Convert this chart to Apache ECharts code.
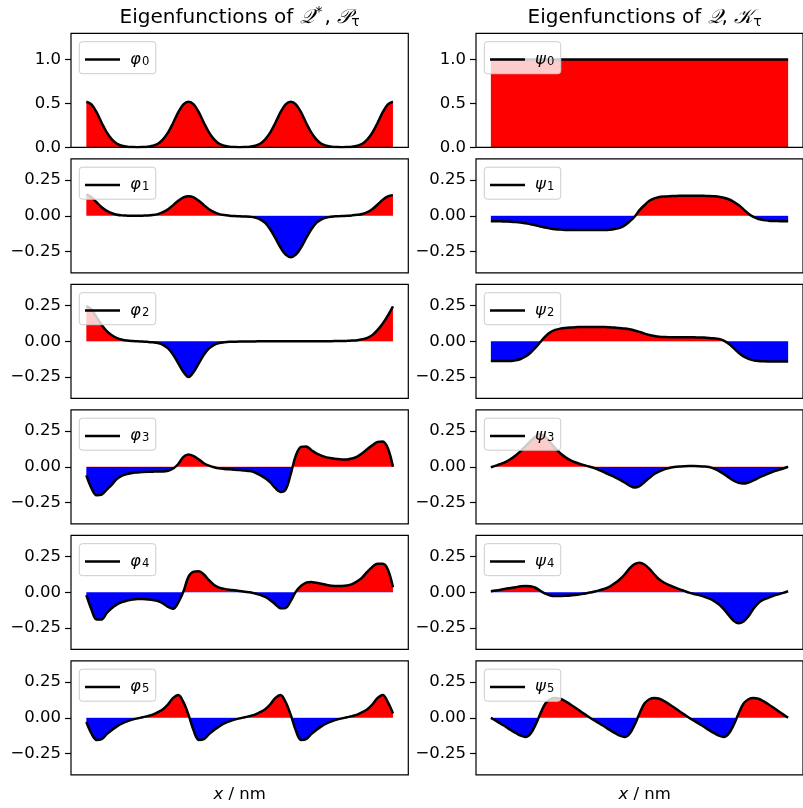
<!DOCTYPE html>
<html><head><meta charset="utf-8">
<script src="https://cdn.jsdelivr.net/npm/echarts@6/dist/echarts.min.js"></script>
<style>html,body{margin:0;padding:0;background:#fff;}#c{width:803px;height:808px;}</style>
</head><body><div id="c"></div>
<script>
// ---- data (61 samples across x) ----
const phi0 = [0.52,0.49,0.40,0.28,0.17,0.09,0.04,0.018,0.007,0.003,0.001,
0.003,0.007,0.018,0.04,0.09,0.17,0.28,0.40,0.49,0.52,
0.49,0.40,0.28,0.17,0.09,0.04,0.018,0.007,0.003,0.001,
0.003,0.007,0.018,0.04,0.09,0.17,0.28,0.40,0.49,0.52,
0.49,0.40,0.28,0.17,0.09,0.04,0.018,0.007,0.003,0.001,
0.003,0.007,0.018,0.04,0.09,0.17,0.28,0.40,0.49,0.52];
const phi1 = [0.15,0.13,0.095,0.06,0.035,0.018,0.008,0.003,0.001,0.0,0.0,
0.001,0.002,0.005,0.012,0.025,0.046,0.075,0.106,0.13,
0.138,
0.13,0.106,0.075,0.046,0.025,0.012,0.005,0.001,-0.002,-0.004,-0.005,
-0.007,-0.012,-0.025,-0.05,-0.096,-0.157,-0.223,-0.273,
-0.29,
-0.273,-0.223,-0.157,-0.096,-0.05,-0.025,-0.012,-0.006,
-0.003,-0.001,0.0,0.003,0.007,0.013,0.026,0.048,0.079,0.112,0.136,0.145];
const phi2 = [0.249,0.225,0.17,0.115,0.072,0.042,0.022,0.011,0.005,0.002,0.0,
-0.002,-0.004,-0.007,-0.012,-0.025,-0.05,-0.095,-0.155,-0.215,
-0.251,
-0.215,-0.155,-0.095,-0.05,-0.025,-0.012,-0.007,-0.004,-0.003,
-0.002,-0.002,-0.001,-0.001,0,0,0,0,0,0,0,0,0,0,0,0,0.001,0.001,0.001,0.002,0.002,
0.003,0.005,0.008,0.014,0.024,0.045,0.08,0.125,0.18,0.245];
const phi3 = [-0.06,-0.15,-0.20,-0.195,-0.16,-0.125,-0.085,-0.062,-0.05,-0.043,
-0.04,-0.037,-0.035,-0.034,-0.033,-0.033,-0.028,-0.012,0.02,0.07,
0.086,0.075,0.052,0.025,0.008,-0.003,-0.011,-0.015,-0.018,-0.02,
-0.023,-0.026,-0.03,-0.04,-0.058,-0.08,-0.11,-0.15,-0.176,-0.16,
-0.05,0.08,0.14,0.143,0.118,0.094,0.078,0.066,0.06,0.055,
0.052,0.052,0.058,0.072,0.095,0.125,0.152,0.175,0.178,0.13,0.0];
const phi4 = [-0.02,-0.12,-0.19,-0.19,-0.145,-0.11,-0.085,-0.068,-0.058,-0.051,
-0.047,-0.047,-0.05,-0.054,-0.062,-0.078,-0.103,-0.115,-0.07,0.005,
0.11,0.145,0.148,0.125,0.085,0.052,0.033,0.024,0.018,0.014,
0.009,0.004,0.0,-0.008,-0.018,-0.032,-0.055,-0.085,-0.112,-0.11,
-0.06,0.005,0.045,0.068,0.073,0.067,0.06,0.052,0.046,0.044,
0.044,0.047,0.057,0.077,0.105,0.145,0.18,0.2,0.2,0.16,0.035];
const phi5 = [-0.03,-0.11,-0.155,-0.15,-0.115,-0.085,-0.06,-0.04,-0.025,-0.013,
-0.004,0.004,0.012,0.022,0.04,0.06,0.095,0.14,0.16,0.11,
0.02,-0.09,-0.155,-0.15,-0.115,-0.085,-0.06,-0.04,-0.025,-0.013,
-0.004,0.004,0.012,0.022,0.04,0.06,0.095,0.14,0.16,0.11,
0.02,-0.09,-0.155,-0.15,-0.115,-0.085,-0.06,-0.04,-0.025,-0.013,
-0.004,0.004,0.012,0.022,0.04,0.06,0.095,0.14,0.16,0.11,0.03];
const psi0 = [1,1,1,1,1,1,1,1,1,1,1,1,1,1,1,1,1,1,1,1,1,1,1,1,1,1,1,1,1,1,
1,1,1,1,1,1,1,1,1,1,1,1,1,1,1,1,1,1,1,1,1,1,1,1,1,1,1,1,1,1,1];
const psi1 = [-0.038,-0.038,-0.039,-0.04,-0.041,-0.043,-0.047,-0.053,-0.059,-0.066,
-0.075,-0.082,-0.089,-0.094,-0.097,-0.099,-0.1,-0.1,-0.1,-0.1,
-0.1,-0.1,-0.1,-0.1,-0.098,-0.093,-0.085,-0.068,-0.04,-0.007,
0.04,0.075,0.105,0.122,0.132,0.136,0.138,0.139,0.14,0.141,
0.141,0.141,0.141,0.14,0.139,0.137,0.134,0.127,0.116,0.098,
0.075,0.045,0.015,-0.008,-0.022,-0.03,-0.034,-0.036,-0.037,-0.038,-0.038];
const psi2 = [-0.139,-0.139,-0.139,-0.139,-0.138,-0.133,-0.124,-0.107,-0.08,-0.045,
-0.005,0.035,0.064,0.08,0.089,0.094,0.097,0.099,0.1,0.101,
0.101,0.101,0.101,0.1,0.098,0.096,0.093,0.09,0.084,0.076,
0.066,0.054,0.044,0.037,0.032,0.03,0.029,0.029,0.028,0.028,
0.028,0.028,0.027,0.026,0.024,0.021,0.017,0.005,-0.018,-0.048,
-0.08,-0.106,-0.123,-0.133,-0.138,-0.14,-0.141,-0.141,-0.141,-0.141,-0.141];
const psi3 = [-0.003,0.008,0.02,0.035,0.055,0.08,0.11,0.145,0.18,0.212,
0.228,0.21,0.17,0.13,0.095,0.068,0.047,0.032,0.02,0.01,
0.0,-0.01,-0.025,-0.04,-0.056,-0.072,-0.09,-0.11,-0.132,-0.146,
-0.135,-0.108,-0.078,-0.05,-0.032,-0.018,-0.008,-0.002,0.002,0.004,
0.005,0.005,0.004,0.002,-0.002,-0.012,-0.028,-0.05,-0.075,-0.098,
-0.113,-0.118,-0.11,-0.096,-0.078,-0.062,-0.047,-0.034,-0.023,-0.012,0.0];
const psi4 = [0.007,0.012,0.018,0.025,0.03,0.036,0.042,0.045,0.042,0.032,
0.01,-0.01,-0.022,-0.026,-0.026,-0.025,-0.023,-0.019,-0.014,-0.008,
-0.002,0.006,0.015,0.025,0.04,0.063,0.09,0.125,0.168,0.198,
0.208,0.195,0.165,0.125,0.09,0.067,0.05,0.036,0.022,0.01,
-0.002,-0.012,-0.02,-0.03,-0.043,-0.06,-0.085,-0.118,-0.16,-0.2,
-0.218,-0.205,-0.168,-0.115,-0.075,-0.052,-0.038,-0.025,-0.014,-0.004,0.007];
const psi5 = [0.0,-0.02,-0.042,-0.063,-0.085,-0.106,-0.125,-0.135,-0.112,-0.05,
0.03,0.1,0.13,0.139,0.134,0.117,0.095,0.072,0.048,0.024,
0.0,-0.02,-0.042,-0.063,-0.085,-0.106,-0.125,-0.135,-0.112,-0.05,
0.03,0.1,0.13,0.139,0.134,0.117,0.095,0.072,0.048,0.024,
0.0,-0.02,-0.042,-0.063,-0.085,-0.106,-0.125,-0.135,-0.112,-0.05,
0.03,0.1,0.13,0.139,0.134,0.117,0.095,0.072,0.048,0.024,0.0];

const leftNames = ['φ0','φ1','φ2','φ3','φ4','φ5'];
const rightNames = ['ψ0','ψ1','ψ2','ψ3','ψ4','ψ5'];
// tick grids (axis steps) and the labelled ticks
const yStepsTop = ['0.0','0.1','0.2','0.3','0.4','0.5','0.6','0.7','0.8','0.9','1.0','1.1','1.2','1.3'];
const yTickLabelsTop = ['0.0', '0.5', '1.0'];
const ySteps = ['-0.40','-0.35','-0.30','-0.25','-0.20','-0.15','-0.10','-0.05','0.00',
                '0.05','0.10','0.15','0.20','0.25','0.30','0.35','0.40'];
const yTickLabels = ['-0.25', '0.00', '0.25'];
const leftTitle = 'Eigenfunctions of {q|𝒬}{sup|*}{t|, }{q|𝒫}{sub|τ}';
const rightTitle = 'Eigenfunctions of {q|𝒬}{t|, }{q|𝒦}{sub|τ}';
const xLabel = '{i|x}{t| / nm}';

// ---- layout ----
const FONT = 'DejaVu Sans';
const FS = 16.5;
const colLeft = [71, 476];
const gridW = 337.3, gridH = 114, top0 = 33.3, rowStep = 125.5;
const leftData = [phi0, phi1, phi2, phi3, phi4, phi5];
const rightData = [psi0, psi1, psi2, psi3, psi4, psi5];

const grids = [], xAxes = [], yAxes = [], series = [], legends = [], areaIdx = [];
for (let col = 0; col < 2; col++) {
  for (let row = 0; row < 6; row++) {
    const k = grids.length;
    const top = top0 + row * rowStep;
    const left = colLeft[col];
    const steps = row === 0 ? yStepsTop : ySteps;
    const shown = row === 0 ? yTickLabelsTop : yTickLabels;
    const isShown = function (idx, val) { return shown.indexOf(steps[idx]) >= 0; };
    grids.push({left: left, top: top, width: gridW, height: gridH, show: true,
      borderColor: '#000', borderWidth: 1.2, backgroundColor: 'transparent', z: 10});
    xAxes.push({type: 'value', gridIndex: k, min: -0.05, max: 1.05, show: false,
      axisLine: {show: false}, axisTick: {show: false}, axisLabel: {show: false}, splitLine: {show: false}});
    // value axis for the data (hidden)
    yAxes.push({type: 'value', gridIndex: k, show: false, min: row === 0 ? 0 : -0.4, max: row === 0 ? 1.3 : 0.4,
      splitLine: {show: false}});
    // category axis carrying ticks and labels at the same positions
    yAxes.push({type: 'category', gridIndex: k, position: 'left', data: steps, boundaryGap: false,
      axisLine: {show: false}, splitLine: {show: false},
      axisTick: {show: true, length: 6, interval: isShown, lineStyle: {color: '#000', width: 1.2}},
      axisLabel: {show: true, interval: isShown, margin: 10, color: '#000', fontFamily: FONT, fontSize: FS,
        formatter: function (v) { return String(v).replace('-', '\u2212'); }}});
    const vals = col === 0 ? leftData[row] : rightData[row];
    const name = col === 0 ? leftNames[row] : rightNames[row];
    const pts = vals.map((v, i) => [i / (vals.length - 1), v]);
    areaIdx.push(series.length);
    series.push({type: 'line', name: 'fill_' + name, xAxisIndex: k, yAxisIndex: 2 * k, data: pts,
      symbol: 'none', smooth: 0.35, silent: true, lineStyle: {width: 0},
      areaStyle: {opacity: 1, origin: 0}, z: 2, animation: false});
    series.push({type: 'line', name: name, xAxisIndex: k, yAxisIndex: 2 * k, data: pts,
      symbol: 'none', smooth: 0.35, silent: true, color: '#000',
      lineStyle: {color: '#000', width: 2.5}, z: 3, animation: false});
    legends.push({left: left + 8.3, top: top + 8.4, data: [name], icon: 'rect',
      itemWidth: 35, itemHeight: 2.5, itemGap: 0, padding: [5.8, 6.5, 5.8, 5.7],
      backgroundColor: 'rgba(255,255,255,0.8)', borderColor: '#cccccc', borderWidth: 1, borderRadius: 3,
      selectedMode: false, itemStyle: {color: '#000'}, z: 20,
      formatter: function (n) { return '{a|' + n.charAt(0) + '}{b|' + n.slice(1) + '}'; },
      textStyle: {color: '#000', fontFamily: FONT, fontSize: FS,
        rich: {
          a: {fontFamily: FONT, fontStyle: 'italic', fontSize: FS, lineHeight: 17, padding: [0, 1, 0, 5], verticalAlign: 'bottom', color: '#000'},
          b: {fontFamily: FONT, fontSize: 11.6, lineHeight: 8.6, padding: [8.4, 0, 0, 0], verticalAlign: 'bottom', color: '#000'}
        }}});
  }
}

const titleRich = {
  t: {fontFamily: FONT, fontSize: 20, lineHeight: 24, color: '#000'},
  q: {fontFamily: 'DejaVu Serif', fontStyle: 'italic', fontSize: 20, lineHeight: 24, color: '#000'},
  sup: {fontFamily: FONT, fontSize: 14, lineHeight: 16, verticalAlign: 'top', padding: [0, 2, 0, 2], color: '#000'},
  sub: {fontFamily: FONT, fontSize: 14, lineHeight: 12, padding: [12, 0, 0, 0], verticalAlign: 'bottom', color: '#000'}
};
const xRich = {
  i: {fontFamily: FONT, fontStyle: 'italic', fontSize: FS, color: '#000'},
  t: {fontFamily: FONT, fontSize: FS, color: '#000'}
};
function txt(text, x, y, rich, size) {
  return {type: 'text', silent: true, z: 30, style: {text: text, x: x, y: y,
    align: 'center', verticalAlign: 'middle', textAlign: 'center', textVerticalAlign: 'middle',
    fontFamily: FONT, fontSize: size, fill: '#000', rich: rich}};
}
const cx0 = colLeft[0] + gridW / 2, cx1 = colLeft[1] + gridW / 2;

const chart = echarts.init(document.getElementById('c'));
chart.setOption({
  animation: false,
  backgroundColor: '#fff',
  grid: grids, xAxis: xAxes, yAxis: yAxes, series: series, legend: legends,
  visualMap: [{type: 'piecewise', show: false, dimension: 1, seriesIndex: areaIdx,
    pieces: [{gt: 0, lte: 100, color: '#ff0000'}, {gte: -100, lte: 0, color: '#0000ff'}],
    outOfRange: {color: '#0000ff'}}],
  graphic: [
    txt(leftTitle, cx0, 17.5, titleRich, 20),
    txt(rightTitle, cx1, 17.5, titleRich, 20),
    txt(xLabel, cx0, 794.5, xRich, FS),
    txt(xLabel, cx1, 794.5, xRich, FS)
  ]
});
</script></body></html>
